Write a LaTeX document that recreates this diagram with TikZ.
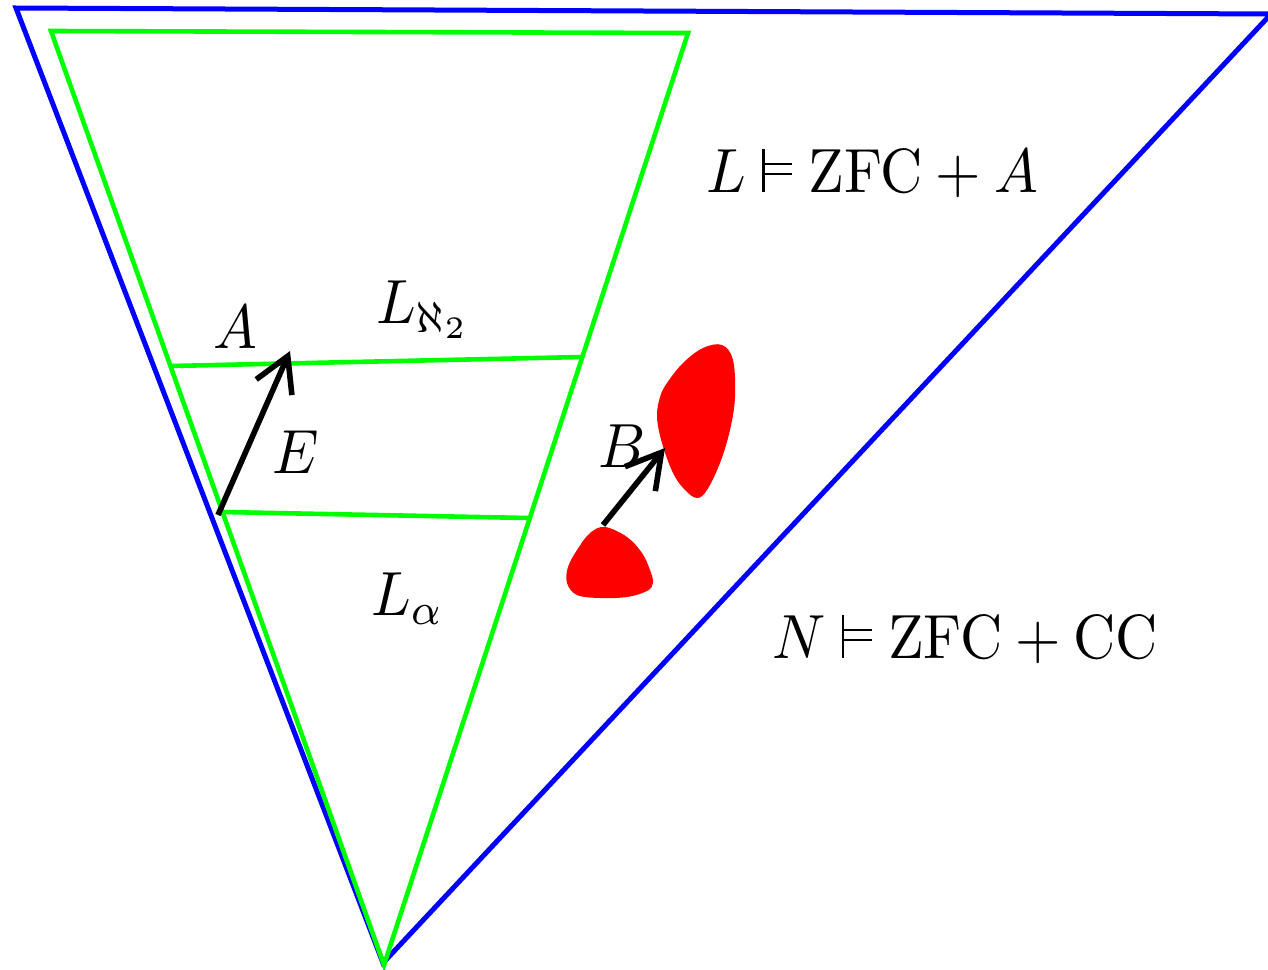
\documentclass[tikz,border=0pt]{standalone}
\usetikzlibrary{arrows.meta}
\newcommand{\lbl}[1]{\scalebox{2.92}[3.12]{$#1$}}
\newcommand{\sat}{\mathrel{\rule{0.45pt}{6.9pt}\hspace{-0.45pt}\rlap{\rule[2.65pt]{5.2pt}{0.45pt}}\rule[4.25pt]{5.2pt}{0.45pt}}}
\tikzset{
  outer/.style={draw=blue, line width=2.5pt, line join=miter},
  inner/.style={draw=green, line width=2.3pt, line join=miter},
  level/.style={draw=green, line width=2.3pt},
  emb/.style={draw=black, line width=2.8pt, -{Straight Barb[length=17pt,width=19.5pt]}},
  blob/.style={fill=red, draw=none},
  lab/.style={anchor=base west, inner sep=0pt, outer sep=0pt},
}
\begin{document}
\begin{tikzpicture}[x=0.5pt,y=-0.5pt]
\clip (0,0) rectangle (1268,969);
\fill[white] (0,0) rectangle (1268,969);
% outer universe N
\coordinate (bTL) at (16,8);
\coordinate (bTR) at (1271,14);
\coordinate (bB) at (383,963);
\draw[outer] (bTL) -- (bTR) -- (bB) -- cycle;
% inner universe L
\coordinate (gTL) at (51,31);
\coordinate (gTR) at (688,33);
\coordinate (gB) at (384,965);
\draw[inner] (gTL) -- (gTR) -- (gB) -- cycle;
% levels
\coordinate (u1) at (171,366);
\coordinate (u2) at (582,357);
\coordinate (l1) at (222,512);
\coordinate (l2) at (529,518);
\draw[level] (u1) -- (u2);
\draw[level] (l1) -- (l2);
% blobs
\fill[blob] plot[smooth cycle, tension=0.6] coordinates {
  (722,345) (733,360) (735,397) (730,430) (720,463) (707,490) (697,498)
  (685,490) (673,473) (662,443) (657,417) (660,397) (667,383) (683,363) (703,348)};
\fill[blob] plot[smooth cycle, tension=0.6] coordinates {
  (605,527) (627,537) (642,553) (650,570) (653,583) (647,591) (627,597)
  (600,598) (577,595) (567,583) (568,567) (577,550) (590,533)};
% embeddings
\coordinate (e1) at (218,515);
\coordinate (e2) at (290,351);
\draw[emb] (e1) -- (e2);
\coordinate (f1) at (603,525);
\coordinate (f2) at (665,448);
\draw[emb] (f1) -- (f2);
% labels
\node[lab] (tA) at (213,348) {\lbl{A}};
\node[lab] (tE) at (272,473) {\lbl{E}};
\node[lab] (tB) at (598,467) {\lbl{B}};
\node[lab] (tLa2) at (376,323) {\lbl{L_{\aleph_2}}};
\node[lab] (tLal) at (371,615) {\lbl{L_\alpha}};
\node[lab] (tL) at (706,192) {\lbl{L\sat \mathrm{ZFC}+A}};
\node[lab] (tN) at (772,658) {\lbl{N\sat \mathrm{ZFC}+\mathrm{CC}}};
\end{tikzpicture}
\end{document}
